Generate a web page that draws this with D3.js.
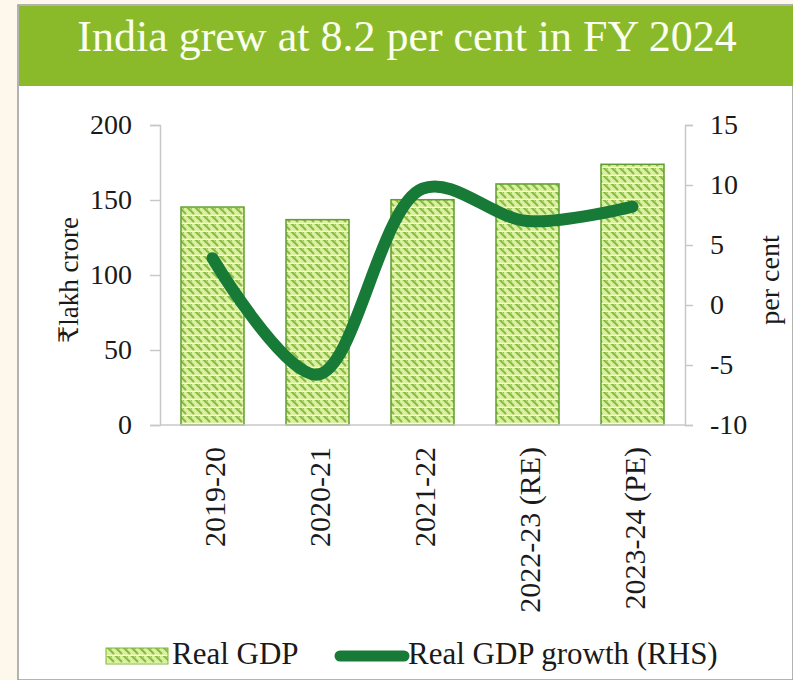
<!DOCTYPE html>
<html>
<head>
<meta charset="utf-8">
<script src="https://cdn.jsdelivr.net/npm/d3@7"></script>
<style>
  body { margin:0; background:#fdf7ec; }
  svg { display:block; font-family:"Liberation Serif","DejaVu Serif",serif; }
</style>
</head>
<body>
<div id="chart"></div>
<script>
// Data
var years = ["2019-20", "2020-21", "2021-22", "2022-23 (RE)", "2023-24 (PE)"];
var realGdp = [145.3, 136.9, 150.2, 160.7, 173.8];   // lakh crore
var gdpGrowth = [3.9, -5.8, 9.7, 7.0, 8.2];          // per cent
var leftTicks = [0, 50, 100, 150, 200];
var rightTicks = [-10, -5, 0, 5, 10, 15];

var width = 793, height = 680;
var svg = d3.select("#chart").append("svg")
  .attr("width", width).attr("height", height);

// panel: cream margin, white card, green title bar
svg.append("rect").attr("x", 0).attr("y", 0).attr("width", width).attr("height", height).attr("fill", "#fdf7ec");
svg.append("rect").attr("x", 18).attr("y", 5).attr("width", width - 18).attr("height", height - 5)
  .attr("fill", "#fff").attr("stroke", "#9a9a9a").attr("stroke-width", 1.5);
svg.append("rect").attr("x", 19).attr("y", 6).attr("width", width - 19).attr("height", 80).attr("fill", "#8aba2a");
svg.append("text").attr("x", 407).attr("y", 51).attr("text-anchor", "middle")
  .attr("fill", "#fbfff0").style("font-size", "44px")
  .text("India grew at 8.2 per cent in FY 2024");

// hatch pattern for bars
var defs = svg.append("defs");
var pat = defs.append("pattern").attr("id", "hatch")
  .attr("patternUnits", "userSpaceOnUse").attr("width", 8).attr("height", 8);
pat.append("rect").attr("width", 8).attr("height", 8).attr("fill", "#dcf0a4");
pat.append("path").attr("d", "M-2,2 L2,6 M2,-2 L10,6 M6,-2 L10,2")
  .attr("stroke", "#86bf3a").attr("stroke-width", 2.2);
pat.append("line").attr("x1", 0).attr("x2", 8).attr("y1", 7.5).attr("y2", 7.5)
  .attr("stroke", "#f6fbe6").attr("stroke-width", 1);

var plotL = 160, plotR = 685, plotT = 125, plotB = 425;

var x = d3.scaleBand().domain(years).range([plotL, plotR]).paddingInner(0.4).paddingOuter(0.2);
var yL = d3.scaleLinear().domain([0, 200]).range([plotB, plotT]);
var yR = d3.scaleLinear().domain([-10, 15]).range([plotB, plotT]);

// bars
svg.append("g").selectAll("rect").data(realGdp).enter().append("rect")
  .attr("x", function(d, i){ return x(years[i]); })
  .attr("y", function(d){ return yL(d); })
  .attr("width", x.bandwidth())
  .attr("height", function(d){ return plotB - yL(d); })
  .attr("fill", "url(#hatch)")
  .attr("stroke", "#5f9e2e").attr("stroke-width", 1.5);

// axes
var axL = svg.append("g").attr("transform", "translate(" + plotL + ",0)")
  .call(d3.axisLeft(yL).tickValues(leftTicks).tickSize(10).tickPadding(18));
var axR = svg.append("g").attr("transform", "translate(" + plotR + ",0)")
  .call(d3.axisRight(yR).tickValues(rightTicks).tickSize(8).tickPadding(17)
    .tickFormat(function(d){ return String(d); }));
var axB = svg.append("g").attr("transform", "translate(0," + plotB + ")")
  .call(d3.axisBottom(x).tickSize(0).tickPadding(0));
[axL, axR, axB].forEach(function(a){
  a.selectAll("path.domain").attr("stroke", "#c8c8c8").attr("stroke-width", 1.5);
  a.selectAll(".tick line").attr("stroke", "#c8c8c8").attr("stroke-width", 1.5);
  a.selectAll("text").attr("fill", "#1a1a1a").style("font-size", "28px")
    .style("font-family", "'Liberation Serif', serif");
});
axB.select("path.domain").attr("d", "M" + plotL + ",0H" + plotR);
axB.selectAll(".tick text")
  .style("font-size", "30px")
  .attr("transform", "rotate(-90)")
  .attr("text-anchor", "end").attr("dy", "0.35em")
  .attr("x", -22).attr("y", 2);

// axis titles
svg.append("text").attr("transform", "translate(78,280) rotate(-90)")
  .attr("text-anchor", "middle").style("font-size", "27px").attr("fill", "#1a1a1a")
  .text("₹lakh crore");
svg.append("text").attr("transform", "translate(779,280) rotate(-90)")
  .attr("text-anchor", "middle").style("font-size", "28px").attr("fill", "#1a1a1a")
  .text("per cent");

// growth line
var line = d3.line()
  .x(function(d, i){ return x(years[i]) + x.bandwidth() / 2; })
  .y(function(d){ return yR(d); })
  .curve(d3.curveCatmullRom.alpha(0.5));
svg.append("path").datum(gdpGrowth)
  .attr("d", line).attr("fill", "none")
  .attr("stroke", "#177a37").attr("stroke-width", 12).attr("stroke-linecap", "round");

// legend
var lg = svg.append("g").attr("transform", "translate(0,656)");
lg.append("rect").attr("x", 106).attr("y", -8).attr("width", 62).attr("height", 16)
  .attr("fill", "url(#hatch)").attr("stroke", "#7fb53a").attr("stroke-width", 1);
lg.append("text").attr("x", 172).attr("y", 8).style("font-size", "31px").attr("fill", "#1a1a1a").text("Real GDP");
lg.append("line").attr("x1", 340).attr("x2", 404).attr("y1", 0).attr("y2", 0)
  .attr("stroke", "#177a37").attr("stroke-width", 11).attr("stroke-linecap", "round");
lg.append("text").attr("x", 408).attr("y", 8).style("font-size", "31px").attr("fill", "#1a1a1a").text("Real GDP growth (RHS)");
</script>
</body>
</html>
